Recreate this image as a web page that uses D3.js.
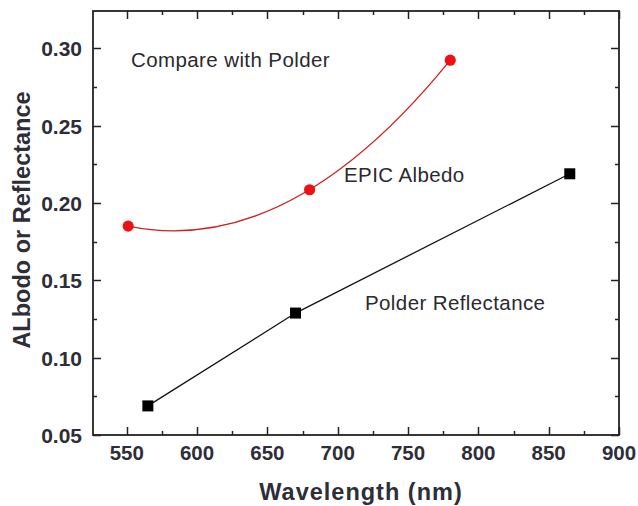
<!DOCTYPE html>
<html><head><meta charset="utf-8">
<script src="https://cdn.jsdelivr.net/npm/d3@7"></script>
<style>body{margin:0;background:#fff}</style>
</head><body>
<svg id="c" width="638" height="506"></svg>
<script>
const epicWavelength = [551, 680, 780];
const epicAlbedo = [0.185, 0.2085, 0.2922];
const polderWavelength = [565, 670, 865];
const polderReflectance = [0.0688, 0.1288, 0.2188];
const xTicks = [550, 600, 650, 700, 750, 800, 850, 900];
const yTicks = [0.05, 0.10, 0.15, 0.20, 0.25, 0.30];
const annotationTexts = ["Compare with Polder", "EPIC Albedo", "Polder Reflectance"];

const svg = d3.select("#c");
const L = 93, R = 619, T = 11, B = 435;
const x = d3.scaleLinear().domain([526, 900]).range([L, R]);
const y = d3.scaleLinear().domain([0.05, 0.324]).range([B, T]);

// custom d3 curve: single parabola through three points (polynomial fit look)
function curveParabola(context) {
  let pts = [];
  return {
    areaStart() {}, areaEnd() {},
    lineStart() { pts = []; },
    point(px, py) { pts.push([+px, +py]); },
    lineEnd() {
      if (pts.length !== 3) {
        pts.forEach((p, i) => i ? context.lineTo(p[0], p[1]) : context.moveTo(p[0], p[1]));
        return;
      }
      const [[x0, y0], [x1, y1], [x2, y2]] = pts;
      const d1 = (y1 - y0) / (x1 - x0);
      const d2 = ((y2 - y1) / (x2 - x1) - d1) / (x2 - x0);
      const slope0 = d1 + d2 * (x0 - x1);
      const cx = (x0 + x2) / 2;
      const cy = y0 + slope0 * (x2 - x0) / 2;
      context.moveTo(x0, y0);
      context.quadraticCurveTo(cx, cy, x2, y2);
    }
  };
}

const minorX = d3.range(575, 900, 50);
const minorY = d3.range(0.075, 0.324, 0.05);
const tickColor = "#222";
const g = svg.append("g");

g.append("rect").attr("x", L).attr("y", T).attr("width", R - L).attr("height", B - T)
  .attr("fill", "none").attr("stroke", tickColor).attr("stroke-width", 1.8);

xTicks.map(v => [v, 8]).concat(minorX.map(v => [v, 4])).forEach(([v, len]) => {
  const px = Math.round(x(v)) + 0.5;
  g.append("line").attr("x1", px).attr("x2", px).attr("y1", B).attr("y2", B - len)
    .attr("stroke", tickColor).attr("stroke-width", 1.5);
  g.append("line").attr("x1", px).attr("x2", px).attr("y1", T).attr("y2", T + len)
    .attr("stroke", tickColor).attr("stroke-width", 1.5);
});
yTicks.map(v => [v, 8]).concat(minorY.map(v => [v, 4])).forEach(([v, len]) => {
  const py = Math.round(y(v)) + 0.5;
  g.append("line").attr("x1", L).attr("x2", L + len).attr("y1", py).attr("y2", py)
    .attr("stroke", tickColor).attr("stroke-width", 1.5);
  g.append("line").attr("x1", R).attr("x2", R - len).attr("y1", py).attr("y2", py)
    .attr("stroke", tickColor).attr("stroke-width", 1.5);
});

const font = "Liberation Sans, Arial, sans-serif";
g.selectAll(".xl").data(xTicks).enter().append("text")
  .attr("x", d => x(d)).attr("y", 460).attr("text-anchor", "middle")
  .attr("font-family", font).attr("font-weight", "bold").attr("font-size", 20.5)
  .attr("fill", "#2e2e38").text(d => d);
g.selectAll(".yl").data(yTicks).enter().append("text")
  .attr("x", 82).attr("y", d => y(d) + 8).attr("text-anchor", "end")
  .attr("font-family", font).attr("font-weight", "bold").attr("font-size", 21)
  .attr("fill", "#2e2e38").text(d => d.toFixed(2));

svg.append("text").attr("x", 361).attr("y", 500).attr("text-anchor", "middle")
  .attr("font-family", font).attr("font-weight", "bold").attr("font-size", 23.5)
  .attr("letter-spacing", 1).attr("fill", "#2e2e38").text("Wavelength (nm)");
svg.append("text").attr("transform", "translate(30,220) rotate(-90)").attr("text-anchor", "middle")
  .attr("font-family", font).attr("font-weight", "bold").attr("font-size", 23.5)
  .attr("fill", "#2e2e38").text("ALbodo or Reflectance");

const epic = epicWavelength.map((w, i) => [w, epicAlbedo[i]]);
const polder = polderWavelength.map((w, i) => [w, polderReflectance[i]]);

svg.append("path").datum(epic)
  .attr("d", d3.line().x(d => x(d[0])).y(d => y(d[1])).curve(curveParabola))
  .attr("fill", "none").attr("stroke", "#cc2222").attr("stroke-width", 1.3);
svg.append("path").datum(polder)
  .attr("d", d3.line().x(d => x(d[0])).y(d => y(d[1])))
  .attr("fill", "none").attr("stroke", "#111").attr("stroke-width", 1.3);

svg.selectAll(".ep").data(epic).enter().append("circle")
  .attr("cx", d => x(d[0])).attr("cy", d => y(d[1])).attr("r", 5.6)
  .attr("fill", "#ee1111");
svg.selectAll(".pp").data(polder).enter().append("rect")
  .attr("x", d => x(d[0]) - 5.5).attr("y", d => y(d[1]) - 5.5)
  .attr("width", 11).attr("height", 11).attr("fill", "#000");

const annPos = [[131, 67], [344, 182], [365, 310]];
annotationTexts.forEach((t, i) => {
  svg.append("text").attr("x", annPos[i][0]).attr("y", annPos[i][1])
    .attr("font-family", font).attr("font-size", 20.5).attr("letter-spacing", 0.4)
    .attr("fill", "#2a2a30").text(t);
});
</script>
</body></html>
